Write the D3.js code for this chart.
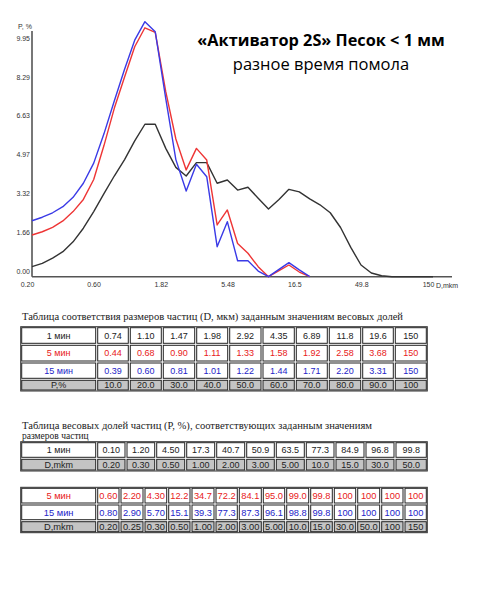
<!DOCTYPE html>
<html><head><meta charset="utf-8">
<script src="https://cdn.jsdelivr.net/npm/d3@7"></script>
<style>
html,body{margin:0;padding:0;background:#fff;}
svg{display:block;}
</style></head>
<body>
<svg id="chart" width="480" height="600"></svg>
<script>
// ---------- data ----------
const dValues = [0.200,0.237,0.281,0.333,0.394,0.467,0.554,0.656,0.778,0.922,1.09,1.29,1.53,1.82,2.15,2.55,3.02,3.58,4.25,5.03,5.96,7.07,8.37,9.92,11.8,13.9,16.5,19.6,23.2,27.5,32.6,38.6,45.7,54.2,64.2,76.1,90.2,107,127,150];
const p1min = [0.43,0.57,0.79,1.07,1.49,2.07,2.78,3.55,4.30,5.00,5.80,6.51,6.51,5.48,4.67,4.30,4.87,4.87,3.99,4.13,3.70,3.82,3.35,2.89,3.30,3.73,3.62,3.32,3.07,2.73,2.10,1.25,0.50,0.16,0.04,0,0,0,0,0];
const p5min = [1.78,1.92,2.11,2.38,2.78,3.30,4.15,5.60,7.19,8.53,9.82,10.63,10.43,7.90,5.88,4.56,5.48,4.98,2.21,2.85,1.42,1.00,0.43,0,0.26,0.50,0.20,0];
const p15min = [2.39,2.54,2.73,2.99,3.39,3.99,4.85,6.10,7.50,8.86,10.10,10.89,10.46,7.60,5.00,3.66,4.80,4.27,1.28,2.35,0.68,0.68,0.24,0,0.31,0.60,0.29,0];

const xTicks = [0.2,0.6,1.82,5.48,16.5,49.8,150];
const xTickLabels = ["0.20","0.60","1.82","5.48","16.5","49.8","150"];
const yTicks = [0,1.66,3.32,4.97,6.63,8.29,9.95];
const yTickLabels = ["0.00","1.66","3.32","4.97","6.63","8.29","9.95"];

const seriesNames = ["1 мин","5 мин","15 мин"];
const seriesColors = ["#333333","#ee3535","#3a3ae6"];
const textColors = ["#222222","#e82020","#2424c8"];

// table 1: D (мкм) for given P
const t1P = ["10.0","20.0","30.0","40.0","50.0","60.0","70.0","80.0","90.0","100"];
const t1Row1 = ["0.74","1.10","1.47","1.98","2.92","4.35","6.89","11.8","19.6","150"];
const t1Row5 = ["0.44","0.68","0.90","1.11","1.33","1.58","1.92","2.58","3.68","150"];
const t1Row15 = ["0.39","0.60","0.81","1.01","1.22","1.44","1.71","2.20","3.31","150"];

// table 2: P for given D (1 мин)
const t2Row1 = ["0.10","1.20","4.50","17.3","40.7","50.9","63.5","77.3","84.9","96.8","99.8"];
const t2D = ["0.20","0.30","0.50","1.00","2.00","3.00","5.00","10.0","15.0","30.0","50.0"];

// table 3: P for given D (5 и 15 мин)
const t3Row5 = ["0.60","2.20","4.30","12.2","34.7","72.2","84.1","95.0","99.0","99.8","100","100","100","100"];
const t3Row15 = ["0.80","2.90","5.70","15.1","39.3","77.3","87.3","96.1","98.8","99.8","100","100","100","100"];
const t3D = ["0.20","0.25","0.30","0.50","1.00","2.00","3.00","5.00","10.0","15.0","30.0","50.0","100","150"];

// ---------- chart ----------
const svg = d3.select("#chart");
const x = d3.scaleLog().domain([0.2,150]).range([32,433]);
const y = d3.scaleLinear().domain([0,9.95]).range([276.7,43.7]);

const axisFont = "Liberation Sans, Arial, sans-serif";

// axes
const gx = svg.append("g").attr("transform","translate(0,276.7)")
  .call(d3.axisBottom(x).tickValues(xTicks).tickFormat((d,i)=>xTickLabels[i]).tickSize(0).tickPadding(5));
gx.select(".domain").attr("d","M32,0H452").attr("stroke","#555").attr("stroke-width",1.6);
gx.selectAll("text").attr("dx",-5).attr("font-size",7).attr("font-family",axisFont).attr("fill","#333");

const gy = svg.append("g").attr("transform","translate(32,0)")
  .call(d3.axisLeft(y).tickValues(yTicks).tickFormat((d,i)=>yTickLabels[i]).tickSize(0).tickPadding(2));
gy.select(".domain").attr("d","M0,31V276.7").attr("stroke","#555").attr("stroke-width",1.6);
gy.selectAll("text").attr("dy",-3.5).attr("font-size",7).attr("font-family",axisFont).attr("fill","#333");

svg.append("text").attr("x",18).attr("y",28.5).attr("font-size",7).attr("font-family",axisFont).attr("fill","#333").text("P, %");
svg.append("text").attr("x",436).attr("y",287.5).attr("font-size",7).attr("font-family",axisFont).attr("fill","#333").text("D,mkm");

const line = d3.line().x(d=>x(d[0])).y(d=>y(d[1]));
const seriesData = [p1min,p5min,p15min];
seriesData.forEach((vals,i)=>{
  svg.append("path")
    .datum(vals.map((v,k)=>[dValues[k],v]))
    .attr("d",line)
    .attr("fill","none")
    .attr("stroke",seriesColors[i])
    .attr("stroke-width",1.4)
    .attr("stroke-linejoin","round");
});

// title
svg.append("text").attr("x",321).attr("y",45.5).attr("text-anchor","middle")
  .attr("font-family","Open Sans, sans-serif").attr("font-weight","bold").attr("font-size",16.3)
  .attr("fill","#000").text("«Активатор 2S» Песок < 1 мм");
svg.append("text").attr("x",321).attr("y",70).attr("text-anchor","middle")
  .attr("font-family","Open Sans, sans-serif").attr("font-size",16.5)
  .attr("fill","#000").text("разное время помола");

// ---------- tables ----------
const capFont = "Liberation Serif, Times New Roman, serif";
const cellFont = "Liberation Sans, Arial, sans-serif";

function drawTable(top, rowHeights, colEdges, rows){
  const g = svg.append("g");
  const left = colEdges[0], right = colEdges[colEdges.length-1];
  const total = d3.sum(rowHeights);
  g.append("rect").attr("x",left).attr("y",top).attr("width",right-left).attr("height",total)
    .attr("fill","#fff").attr("stroke","#333").attr("stroke-width",1);
  let yy = top;
  rows.forEach((r,ri)=>{
    const h = rowHeights[ri];
    const cells = [r.label].concat(r.values);
    g.selectAll(null).data(cells).enter().append("rect")
      .attr("x",(d,ci)=>colEdges[ci]+1).attr("y",yy+1)
      .attr("width",(d,ci)=>colEdges[ci+1]-colEdges[ci]-2).attr("height",h-2)
      .attr("fill",r.grey?"#c4c4c4":"#fff").attr("stroke","#222").attr("stroke-width",1);
    g.selectAll(null).data(cells).enter().append("text")
      .attr("x",(d,ci)=>(colEdges[ci]+colEdges[ci+1])/2).attr("y",yy+h/2+3.2)
      .attr("text-anchor","middle").attr("font-family",cellFont).attr("font-size",r.fs||9)
      .attr("fill",r.color).text(d=>d);
    yy += h;
  });
}

// table 1
svg.append("text").attr("x",22).attr("y",320).attr("font-family",capFont).attr("font-size",10.5)
  .attr("textLength",381).attr("lengthAdjust","spacingAndGlyphs").attr("fill","#222")
  .text("Таблица соответствия размеров частиц (D, мкм) заданным значениям весовых долей");
drawTable(326.7,[17.6,17.7,17.3,11.7],
  [20.7,96.7,129.3,162.3,195.7,228.7,262,295.3,328.3,361.7,394.3,427.3],
  [{label:seriesNames[0],values:t1Row1,color:textColors[0]},
   {label:seriesNames[1],values:t1Row5,color:textColors[1]},
   {label:seriesNames[2],values:t1Row15,color:textColors[2]},
   {label:"P,%",values:t1P,color:"#222",grey:true}]);

// table 2
svg.append("text").attr("x",22).attr("y",428.5).attr("font-family",capFont).attr("font-size",10.5)
  .attr("textLength",350).attr("lengthAdjust","spacingAndGlyphs").attr("fill","#222")
  .text("Таблица весовых долей частиц (P, %), соответствующих заданным значениям");
svg.append("text").attr("x",22).attr("y",439.3).attr("font-family",capFont).attr("font-size",9.5)
  .attr("fill","#222").text("размеров частиц");
drawTable(441.7,[16.6,12.7],
  [20.7,96.7,126,155.7,185.7,215.7,245.7,275.3,305.3,335,365,395,427.3],
  [{label:seriesNames[0],values:t2Row1,color:textColors[0]},
   {label:"D,mkm",values:t2D,color:"#222",grey:true}]);

// table 3
drawTable(487.3,[16.7,16.7,12],
  [20.7,96.7,120,144,167.7,191,215,238.3,262.3,285.7,309.7,333.3,356.7,380.7,404,427.3],
  [{label:seriesNames[1],values:t3Row5,color:textColors[1],fs:9.3},
   {label:seriesNames[2],values:t3Row15,color:textColors[2],fs:9.3},
   {label:"D,mkm",values:t3D,color:"#222",grey:true,fs:9.3}]);
</script>
</body></html>
